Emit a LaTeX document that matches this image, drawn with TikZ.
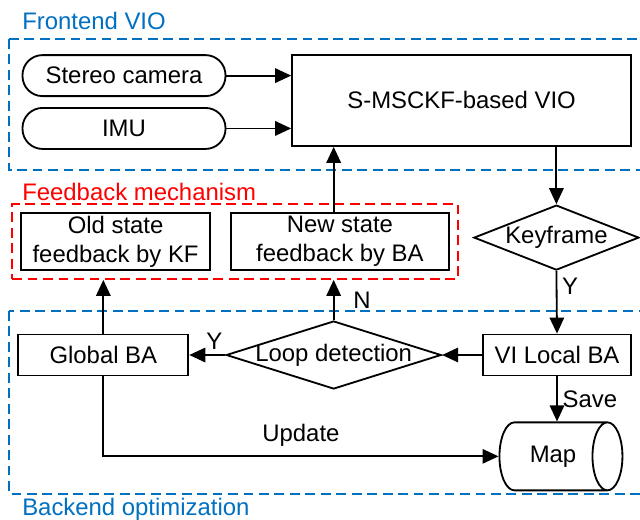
\documentclass[tikz,border=0pt]{standalone}
\usepackage{fontspec}
\setmainfont{Liberation Sans}
\usepackage{xcolor}
\definecolor{frameblue}{RGB}{0,112,192}
\definecolor{framered}{RGB}{255,0,0}
\usepackage{tikz}
\usetikzlibrary{shapes.geometric,arrows.meta,positioning,calc,backgrounds,fit}
\tikzset{
  vio_src/.style={rectangle,rounded corners=0.5cm,draw=black,line width=1.3pt,
    minimum width=5.075cm,minimum height=1.025cm,inner sep=0pt},
  vio_proc/.style={rectangle,draw=black,line width=1.3pt,align=center,inner sep=2pt},
  vio_dec/.style={diamond,draw=black,line width=1.3pt,inner sep=0pt},
  vio_store/.style={cylinder,draw=black,line width=1.3pt,aspect=1.4,inner sep=0pt,
    minimum width=1.7cm,minimum height=3.075cm},
  grp_blue/.style={draw=frameblue,line width=1.2pt,dash pattern=on 7pt off 4pt},
  grp_red/.style={draw=framered,line width=1.2pt,dash pattern=on 7pt off 4pt},
  grp_title/.style={font=\fontsize{17}{20.5}\selectfont,inner sep=0pt,anchor=base west},
  arr/.style={-{Triangle[length=0.4cm,width=0.36cm]},line width=1.3pt,draw=black},
}

\begin{document}
\begin{tikzpicture}[node distance=0.5cm,every node/.style={font=\fontsize{17}{20.5}\selectfont}]
  \useasboundingbox (0,0) rectangle (16,-12.975);
  % frontend
  \node (stereo)[vio_src] at (3.1,-1.89) {Stereo camera};
  \node (imu)[vio_src,below=0.25cm of stereo] {IMU};
  \node (vio)[vio_proc,minimum width=8.475cm,minimum height=2.275cm] at (11.54,-2.51)
    {S-MSCKF-based VIO};
  % feedback
  \node (oldfb)[vio_proc,minimum width=4.725cm,minimum height=1.425cm] at (2.89,-6.04)
    {Old state\\ feedback by KF};
  \node (newfb)[vio_proc,minimum width=5.45cm,minimum height=1.425cm,right=0.475cm of oldfb]
    {New state\\ feedback by BA};
  % backend
  \node (key)[vio_dec,minimum width=4.125cm,minimum height=1.625cm,
    label={center:Keyframe}] at (13.91,-5.94) {};
  \node (vlba)[vio_proc,minimum width=3.7cm,minimum height=1.025cm] at (13.925,-8.875)
    {VI Local BA};
  \node (loop)[vio_dec,minimum width=5.375cm,minimum height=1.7cm,
    label={center:Loop detection},left=1cm of vlba] {};
  \node (gba)[vio_proc,minimum width=4.25cm,minimum height=1.025cm,left=0.9cm of loop]
    {Global BA};
  \node (map)[vio_store,below=1.125cm of vlba,xshift=-0.1cm] {Map};
  % frames
  \node (fb)[grp_red,fit=(oldfb)(newfb),inner sep=0.2cm] {};
  \draw[grp_blue] (0.225,-0.975) rectangle (16.4,-4.25);
  \draw[grp_blue] (0.225,-7.775) rectangle (16.4,-12.35);
  \node (tfront)[grp_title,text=frameblue] at (0.55,-0.725) {Frontend VIO};
  \node (tfb)[grp_title,text=framered] at (0.55,-5.02) {Feedback mechanism};
  \node (tback)[grp_title,text=frameblue] at (0.55,-12.875) {Backend optimization};
  % connectors
  \draw[arr] (stereo.east) -- (stereo.east -| vio.west);
  \draw[arr] (imu.east) -- (imu.east -| vio.west);
  \draw[arr] (vio.south -| key.north) -- (key.north);
  \draw[arr] (key.south) -- node[right,pos=0.25]{Y} (vlba.north);
  \draw[arr] (vlba.west) -- (loop.east);
  \draw[arr] (loop.west) -- node[above,pos=0.3]{Y} (gba.east);
  \draw[arr] (loop.north) -- node[right=0.35cm]{N} (loop.north |- fb.south);
  \draw[arr] (newfb.north -| loop.north) -- (vio.south -| loop.north);
  \draw[arr] (gba.north) -- (gba.north |- fb.south);
  \draw[arr] (gba.south) |- node[above=0.1cm,pos=0.75]{Update} (map.west);
  \draw[arr] (vlba.south) -- node[right]{Save} (vlba.south |- map.north);
\end{tikzpicture}
\end{document}
